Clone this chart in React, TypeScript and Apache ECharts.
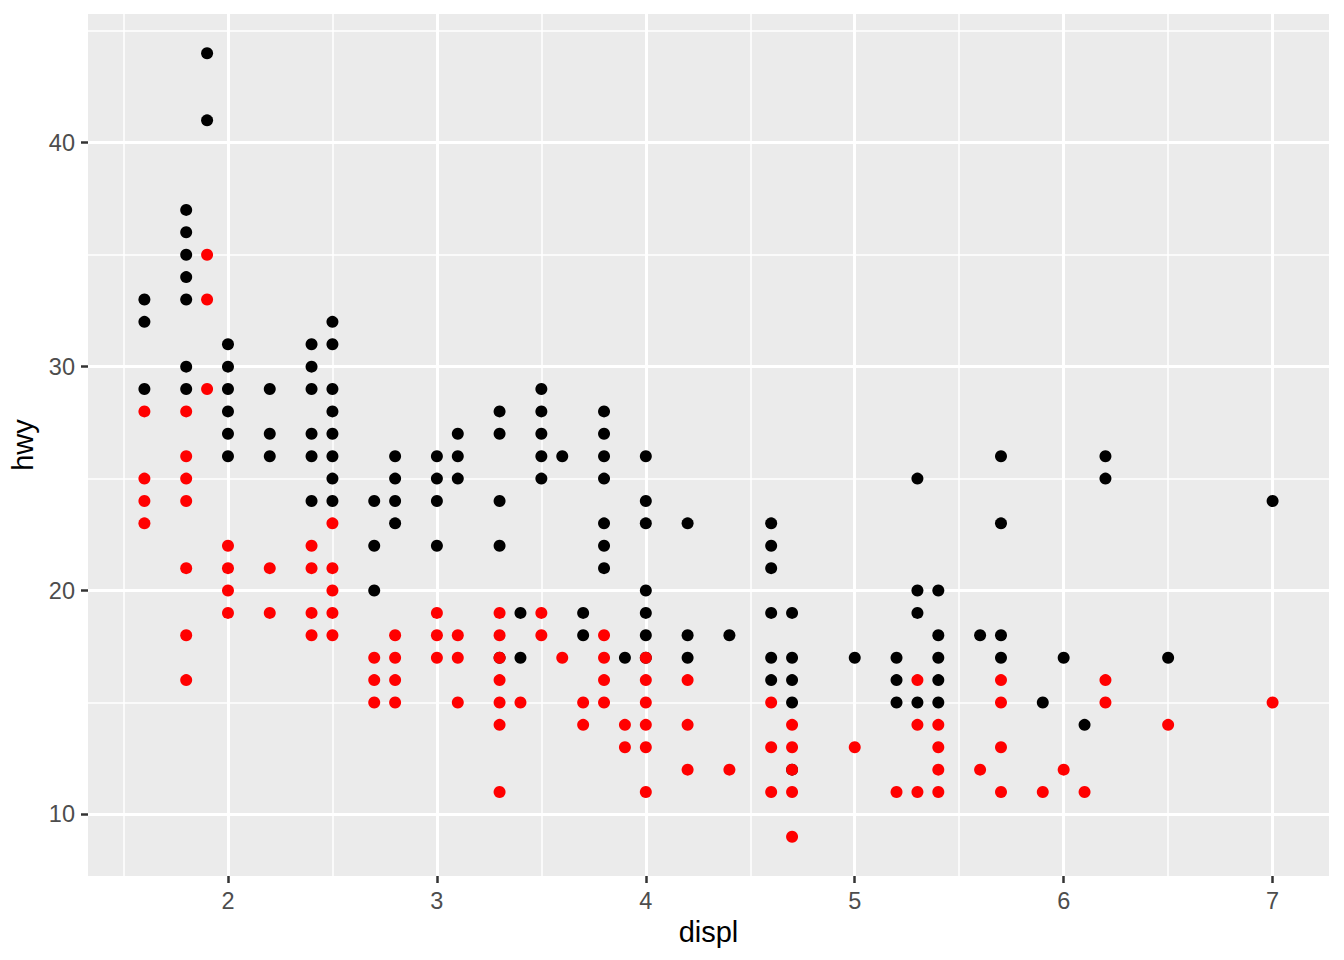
import React, { useEffect, useRef } from "react";
import * as echarts from "echarts";

// displ values (x) with the distinct hwy (black) and cty (red) values seen at each
const displ = [1.6, 1.8, 1.9, 2.0, 2.2, 2.4, 2.5, 2.7, 2.8, 3.0, 3.1, 3.3, 3.4, 3.5, 3.6, 3.7, 3.8, 3.9, 4.0, 4.2, 4.4, 4.6, 4.7, 5.0, 5.2, 5.3, 5.4, 5.6, 5.7, 5.9, 6.0, 6.1, 6.2, 6.5, 7.0];

const hwy: number[][] = [
  [33, 32, 29],
  [37, 36, 35, 34, 33, 30, 29],
  [44, 41],
  [31, 30, 29, 28, 27, 26],
  [29, 27, 26],
  [31, 30, 29, 27, 26, 24],
  [32, 31, 29, 28, 27, 26, 25, 24],
  [24, 22, 20],
  [26, 25, 24, 23],
  [26, 25, 24, 22],
  [27, 26, 25],
  [28, 27, 24, 22, 17],
  [19, 17],
  [29, 28, 27, 26, 25],
  [26],
  [19, 18],
  [28, 27, 26, 25, 23, 22, 21],
  [17],
  [26, 24, 23, 20, 19, 18, 17],
  [23, 18, 17],
  [18],
  [23, 22, 21, 19, 17, 16],
  [19, 17, 16, 15, 12],
  [17],
  [17, 16, 15],
  [25, 20, 19, 15],
  [20, 18, 17, 16, 15],
  [18],
  [26, 23, 18, 17],
  [15],
  [17],
  [14],
  [26, 25],
  [17],
  [24],
];

const cty: number[][] = [
  [28, 25, 24, 23],
  [28, 26, 25, 24, 21, 18, 16],
  [35, 33, 29],
  [22, 21, 20, 19],
  [21, 19],
  [22, 21, 19, 18],
  [23, 21, 20, 19, 18],
  [17, 16, 15],
  [18, 17, 16, 15],
  [19, 18, 17],
  [18, 17, 15],
  [19, 18, 17, 16, 15, 14, 11],
  [15],
  [19, 18],
  [17],
  [15, 14],
  [18, 17, 16, 15],
  [14, 13],
  [17, 16, 15, 14, 13, 11],
  [16, 14, 12],
  [12],
  [15, 13, 11],
  [14, 13, 12, 11, 9],
  [13],
  [11],
  [16, 14, 11],
  [14, 13, 12, 11],
  [12],
  [16, 15, 13, 11],
  [11],
  [12],
  [11],
  [16, 15],
  [14],
  [15],
];

const xBreaks = [2, 3, 4, 5, 6, 7];
const xMinor = [1.5, 2.5, 3.5, 4.5, 5.5, 6.5];
const yBreaks = [10, 20, 30, 40];
const yMinor = [15, 25, 35, 45];

export default function App() {
  const ref = useRef<HTMLDivElement>(null);
  useEffect(() => {
    const chart = echarts.init(ref.current!, null, { renderer: "svg" });
    const toPts = (vals: number[][]) => displ.flatMap((d, i) => vals[i].map((v) => [d, v]));
    const font = "'Liberation Sans', Arial, Helvetica, sans-serif";
    const minorStyle = { color: "#FFFFFF", width: 1.5, type: "solid" };
    const majorStyle = { color: "#FFFFFF", width: 3, type: "solid" };
    const gridLines = [
      ...xMinor.map((v) => ({ xAxis: v, lineStyle: minorStyle })),
      ...yMinor.map((v) => ({ yAxis: v, lineStyle: minorStyle })),
      ...xBreaks.map((v) => ({ xAxis: v, lineStyle: majorStyle })),
      ...yBreaks.map((v) => ({ yAxis: v, lineStyle: majorStyle })),
    ];
    const axisCommon = {
      type: "value",
      nameLocation: "middle",
      nameTextStyle: { color: "#000000", fontSize: 29, fontFamily: font },
      axisLine: { show: false },
      splitLine: { show: false },
      minorSplitLine: { show: false },
    };
    chart.setOption({
      animation: false,
      backgroundColor: "#FFFFFF",
      grid: {
        left: 88,
        right: 15,
        top: 14,
        bottom: 84,
        show: true,
        backgroundColor: "#EBEBEB",
        borderWidth: 0,
      },
      xAxis: {
        ...axisCommon,
        min: 1.33,
        max: 7.27,
        name: "displ",
        nameGap: 40,
        axisTick: { show: true, length: 7, lineStyle: { color: "#333333", width: 2.5 }, customValues: xBreaks },
        axisLabel: { customValues: xBreaks, color: "#4D4D4D", fontSize: 23.5, margin: 13, fontFamily: font },
      },
      yAxis: {
        ...axisCommon,
        min: 7.25,
        max: 45.75,
        name: "hwy",
        nameRotate: 90,
        nameGap: 46,
        axisTick: { show: true, length: 7, lineStyle: { color: "#333333", width: 2.5 }, customValues: yBreaks },
        axisLabel: { customValues: yBreaks, color: "#4D4D4D", fontSize: 23.5, margin: 13, fontFamily: font },
      },
      series: [
        {
          type: "scatter",
          data: [],
          silent: true,
          z: 1,
          markLine: {
            silent: true,
            z: 1,
            symbol: ["none", "none"],
            label: { show: false },
            emphasis: { disabled: true },
            lineStyle: { type: "solid" },
            data: gridLines,
          },
        },
        {
          type: "scatter",
          data: toPts(hwy),
          symbol: "circle",
          symbolSize: 12,
          z: 3,
          itemStyle: { color: "#000000", opacity: 1 },
        },
        {
          type: "scatter",
          data: toPts(cty),
          symbol: "circle",
          symbolSize: 12,
          z: 4,
          itemStyle: { color: "#FF0000", opacity: 1 },
        },
      ],
    });
    return () => chart.dispose();
  }, []);
  return (
    <div
      ref={ref}
      style={{ position: "absolute", left: 0, top: 0, width: 1344, height: 960 }}
    />
  );
}
